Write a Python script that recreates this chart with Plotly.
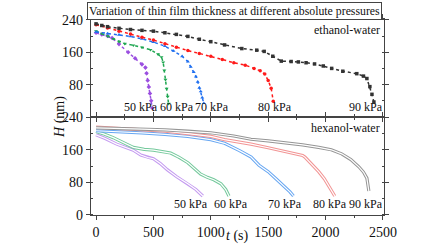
import plotly.graph_objects as go

# ---------------- data ----------------
pressures = ["50 kPa", "60 kPa", "70 kPa", "80 kPa", "90 kPa"]

# ethanol-water (top panel)
eth_50_t = [0, 50, 100, 140, 200, 280, 340, 400, 430, 440, 450, 460, 470, 480, 490]
eth_50_H = [208, 204, 200, 195, 180, 160, 145, 130, 122, 108, 90, 74, 58, 40, 22]
eth_60_t = [0, 50, 100, 150, 200, 250, 325, 400, 474, 540, 570, 585, 595, 605, 615, 624, 632]
eth_60_H = [212, 206, 200, 193, 186, 181, 177, 172, 166, 155, 148, 135, 115, 92, 70, 50, 33]
eth_70_t = [0, 100, 200, 300, 400, 500, 600, 675, 750, 800, 825, 851, 870, 886, 900, 912, 925, 939]
eth_70_H = [210, 206, 203, 199, 193, 185, 175, 163, 150, 137, 124, 111, 100, 87, 72, 63, 48, 34]
eth_80_t = [0, 100, 200, 300, 400, 500, 600, 700, 800, 900, 1000, 1100, 1200, 1300, 1377, 1430, 1470, 1500, 1526, 1544]
eth_80_H = [228, 220, 212, 205, 197, 190, 181, 172, 164, 157, 150, 142, 134, 128, 120, 114, 106, 90, 71, 39]
eth_90_t = [0, 50, 100, 200, 300, 400, 500, 600, 700, 800, 900, 1000, 1120, 1270, 1400, 1465, 1540, 1614,
            1700, 1763, 1830, 1904, 1980, 2053, 2150, 2272, 2330, 2360, 2386, 2404, 2421]
eth_90_H = [230, 226, 223, 219, 216, 214, 212, 208, 204, 199, 192, 186, 178, 169, 165, 162, 150, 138,
            137, 136, 134, 131, 126, 120, 113, 107, 101, 95, 75, 56, 37]

# hexanol-water (bottom panel)
hex_50_t = [0, 80, 180, 260, 325, 390, 450, 500, 560, 620, 700, 800, 870, 930]
hex_50_H = [197, 188, 174, 166, 159, 147, 141, 138, 126, 111, 94, 76, 62, 46]
hex_60_t = [0, 60, 150, 250, 325, 420, 500, 650, 720, 800, 860, 912, 970, 1026, 1088, 1130, 1158]
hex_60_H = [205, 200, 190, 176, 166, 161, 159, 152, 142, 128, 114, 100, 92, 86, 76, 62, 46]
hex_70_t = [0, 200, 400, 600, 800, 1000, 1120, 1250, 1351, 1420, 1500, 1570, 1640, 1690, 1720]
hex_70_H = [207, 205, 202, 198, 193, 185, 176, 158, 142, 122, 106, 88, 70, 56, 46]
hex_80_t = [0, 200, 400, 600, 800, 1000, 1120, 1250, 1350, 1500, 1650, 1800, 1820, 1880, 1940, 1990, 2030, 2080]
hex_80_H = [216, 213, 210, 206, 200, 193, 185, 179, 174, 165, 155, 146, 142, 125, 106, 88, 70, 46]
hex_90_t = [0, 200, 400, 600, 800, 1000, 1200, 1350, 1500, 1640, 1800, 1940, 2050, 2140, 2220, 2290, 2330, 2360, 2377]
hex_90_H = [214, 213, 211, 209, 206, 202, 194, 186, 182, 178, 172, 166, 160, 150, 136, 118, 105, 90, 58]

x_ticks = [0, 500, 1000, 1500, 2000, 2500]
y_ticks_top = [80, 160, 240]
y_ticks_bottom = [0, 80, 160, 240]

# ---------------- styles ----------------
FONT = "Times New Roman, Liberation Serif, DejaVu Serif, serif"
top_colors = ["#9b4fe0", "#1ea650", "#1f6ff0", "#ff1a1a", "#333333"]
top_symbols = ["diamond", "triangle-down", "triangle-up", "circle", "square"]
bot_colors = ["#c49af0", "#74c99c", "#66a6f2", "#f29494", "#959595"]

eth = [(eth_50_t, eth_50_H), (eth_60_t, eth_60_H), (eth_70_t, eth_70_H), (eth_80_t, eth_80_H), (eth_90_t, eth_90_H)]
hexs = [(hex_50_t, hex_50_H), (hex_60_t, hex_60_H), (hex_70_t, hex_70_H), (hex_80_t, hex_80_H), (hex_90_t, hex_90_H)]

fig = go.Figure()

for i, (t, h) in enumerate(eth):
    fig.add_trace(go.Scatter(
        x=t, y=h, xaxis="x2", yaxis="y2", mode="lines+markers", name=pressures[i],
        line=dict(color=top_colors[i], width=1.5, dash="dot"),
        marker=dict(color=top_colors[i], size=3.5, symbol=top_symbols[i]),
        showlegend=False))

for i, (t, h) in enumerate(hexs):
    fig.add_trace(go.Scatter(
        x=t, y=h, xaxis="x", yaxis="y", mode="lines", name=pressures[i],
        line=dict(color=bot_colors[i], width=3.2), showlegend=False))
    fig.add_trace(go.Scatter(
        x=t, y=h, xaxis="x", yaxis="y", mode="lines", name=pressures[i],
        line=dict(color="white", width=1.2), showlegend=False, hoverinfo="skip"))

axis_common = dict(showline=True, linecolor="#444", linewidth=1.2, mirror="ticks",
                   ticks="outside", ticklen=4, tickcolor="#444", showgrid=False, zeroline=False,
                   tickfont=dict(family=FONT, size=14, color="#111"))

fig.update_layout(
    width=448, height=252,
    margin=dict(l=91, r=64, t=16, b=32),
    paper_bgcolor="white", plot_bgcolor="white",
    font=dict(family=FONT),
    xaxis=dict(axis_common, range=[-44, 2509], tickvals=x_ticks, anchor="y", domain=[0, 1],
               minor=dict(dtick=250, tick0=0, ticks="outside", ticklen=2, tickcolor="#444")),
    xaxis2=dict(axis_common, range=[-44, 2509], tickvals=x_ticks, anchor="y2", matches="x",
                showticklabels=False,
                minor=dict(dtick=250, tick0=0, ticks="outside", ticklen=2, tickcolor="#444")),
    yaxis=dict(axis_common, range=[-1, 241], tickvals=y_ticks_bottom, domain=[0, 0.5], anchor="x",
               minor=dict(dtick=40, tick0=0, ticks="inside", ticklen=2, tickcolor="#444")),
    yaxis2=dict(axis_common, range=[0, 242], tickvals=y_ticks_top, domain=[0.5, 1], anchor="x2",
                minor=dict(dtick=40, tick0=0, ticks="inside", ticklen=2, tickcolor="#444")),
)

ann_font = dict(family=FONT, size=12, color="#111")
top_label_x = [0.171, 0.294, 0.413, 0.628, 0.939]
bot_label_x = [0.341, 0.478, 0.662, 0.816, 0.939]
annotations = []
for i, p in enumerate(pressures):
    annotations.append(dict(text=p, xref="paper", yref="paper", x=top_label_x[i], y=0.549,
                            showarrow=False, font=ann_font, xanchor="center", yanchor="middle"))
    annotations.append(dict(text=p, xref="paper", yref="paper", x=bot_label_x[i], y=0.054,
                            showarrow=False, font=ann_font, xanchor="center", yanchor="middle"))
annotations += [
    dict(text="ethanol-water", xref="paper", yref="paper", x=0.874, y=0.946, showarrow=False,
         font=ann_font, xanchor="center", yanchor="middle"),
    dict(text="hexanol-water", xref="paper", yref="paper", x=0.870, y=0.446, showarrow=False,
         font=ann_font, xanchor="center", yanchor="middle"),
    dict(text="Variation of thin film thickness at different absolute pressures", xref="paper",
         yref="paper", x=0.491, y=1.039, showarrow=False, font=dict(family=FONT, size=11.8, color="#111"),
         xanchor="center", yanchor="middle", bordercolor="#444", borderwidth=1, borderpad=1,
         bgcolor="white"),
    dict(text="<i>H</i> (nm)", xref="paper", yref="paper", x=-0.106, y=0.5, textangle=-90,
         showarrow=False, font=dict(family=FONT, size=14, color="#111"), xanchor="center", yanchor="middle"),
    dict(text="<i>t</i> (s)", xref="paper", yref="paper", x=0.50, y=-0.108, showarrow=False,
         font=dict(family=FONT, size=14, color="#111"), xanchor="center", yanchor="middle"),
]
fig.update_layout(annotations=annotations)

fig.write_html("out.html", config={"displayModeBar": False},
               post_script="document.body.style.margin='0';")
